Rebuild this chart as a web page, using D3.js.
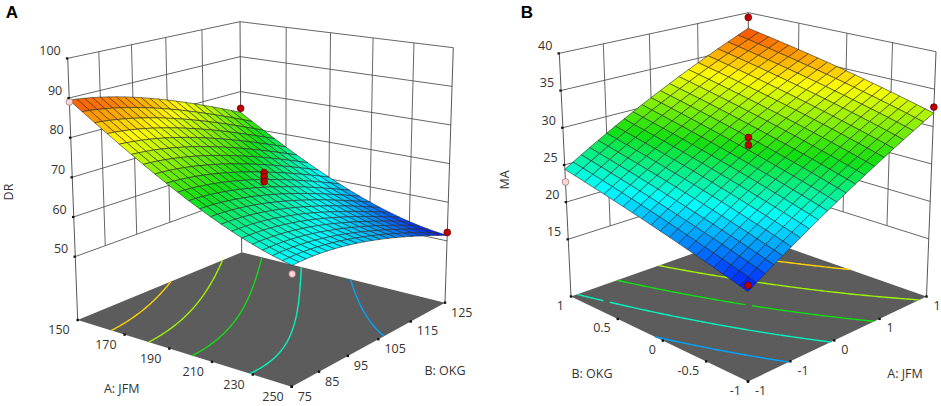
<!DOCTYPE html>
<html>
<head>
<meta charset="utf-8">
<script src="https://cdn.jsdelivr.net/npm/d3@7"></script>
<style>
  body { margin: 0; background: #fff; }
  text { font-family: "Segoe UI", "Open Sans", "Noto Sans", sans-serif; fill: #333; font-size: 12.5px; }
</style>
</head>
<body>
<svg id="chart" width="941" height="406"></svg>
<script>
(function () {
  // ---- panel A: DR against A: JFM and B: OKG (actual units)
  const jfmTicks = [150, 170, 190, 210, 230, 250];
  const okgTicks = [75, 85, 95, 105, 115, 125];
  const drTicks = [50, 60, 70, 80, 90, 100];
  // fitted model, coded units: [1, A, B, AB, A^2, B^2]
  const drCoef = [67.3, -12.7, -6.3, 1.4, 4.74, -3.0];
  // design runs: [JFM, OKG, DR]
  const drRuns = [[150, 75, 89.0], [150, 125, 75.2], [250, 125, 52.2], [250, 75, 59.3],
                  [200, 100, 71.0], [200, 100, 70.0], [200, 100, 68.7]];

  // ---- panel B: MA against coded A: JFM and B: OKG
  const jfmTicksB = [-1, -0.5, 0, 0.5, 1];
  const jfmLabelsB = ["-1", "-1", "0", "1", "1"];
  const okgTicksB = [-1, -0.5, 0, 0.5, 1];
  const okgLabelsB = ["-1", "-0.5", "0", "0.5", "1"];
  const maTicks = [15, 20, 25, 30, 35, 40];
  // fitted model, coded units: [1, A, B]
  const maCoef = [28.1, 6.65, 2.95];
  // design runs: [JFM, OKG, MA]
  const maRuns = [[1, 1, 39.3], [1, -1, 32.6], [-1, 1, 22.7], [-1, -1, 19.3], [0, 0, 29.8], [0, 0, 28.8]];

  function drModel(A, B) {
    const a = (A - 200) / 50, b = (B - 100) / 25, c = drCoef;
    return c[0] + c[1] * a + c[2] * b + c[3] * a * b + c[4] * a * a + c[5] * b * b;
  }
  function maModel(A, B) {
    return maCoef[0] + maCoef[1] * A + maCoef[2] * B;
  }

  const color = d3.scaleLinear()
    .domain([0, 0.27, 0.5, 0.78, 1])
    .range(["#0010ff", "#00ffff", "#10e010", "#ffff00", "#ff4a00"])
    .clamp(true);

  const svg = d3.select("#chart");

  // box corners on screen: fx/fy floor, tx/ty top; c<u><v>
  const panels = [
    {
      letter: "A", letterPos: [12, 12],
      f: drModel, runs: drRuns,
      x: d3.scaleLinear().domain([150, 250]).range([0, 1]),
      y: d3.scaleLinear().domain([75, 125]).range([0, 1]),
      z: d3.scaleLinear().domain([34, 100]).range([0, 1]),
      corners: {
        c00: { fx: 77.7, fy: 320, tx: 67.7, ty: 58.3 },
        c10: { fx: 291.7, fy: 386.7, tx: 293, ty: 92.7 },
        c01: { fx: 241.7, fy: 252.3, tx: 240, ty: 21.7 },
        c11: { fx: 445, fy: 302.7, tx: 453.3, ty: 47.7 }
      },
      zTicks: drTicks, zCorner: [0, 0], zTitle: "DR", zTitlePos: [8.5, 192],
      walls: [
        { pt: t => [0, t], ticks: okgTicks, axis: "y" },
        { pt: t => [t, 1], ticks: jfmTicks, axis: "x" }
      ],
      verticals: [[0, 0], [0, 1], [1, 1]],
      axes: [
        { pt: t => [t, 0], ticks: jfmTicks, labels: jfmTicks.map(String), axis: "x", anchor: "end", off: [-8, 10],
          title: "A: JFM", titlePos: [121.7, 388.5] },
        { pt: t => [1, t], ticks: okgTicks, labels: okgTicks.map(String), axis: "y", anchor: "start", off: [6, 9.5],
          title: "B: OKG", titlePos: [445, 371] }
      ]
    },
    {
      letter: "B", letterPos: [527, 12],
      f: maModel, runs: maRuns,
      x: d3.scaleLinear().domain([-1, 1]).range([0, 1]),
      y: d3.scaleLinear().domain([-1, 1]).range([0, 1]),
      z: d3.scaleLinear().domain([7.3, 40]).range([0, 1]),
      corners: {
        c00: { fx: 748, fy: 381.5, tx: 748, ty: 119.5 },
        c10: { fx: 926.5, fy: 296.5, tx: 936, ty: 51.7 },
        c01: { fx: 571, fy: 296.5, tx: 559.3, ty: 53.3 },
        c11: { fx: 748.3, fy: 234, tx: 748.3, ty: 12.7 }
      },
      zTicks: maTicks, zCorner: [0, 1], zTitle: "MA", zTitlePos: [505, 180],
      walls: [
        { pt: t => [t, 1], ticks: jfmTicksB, axis: "x" },
        { pt: t => [1, t], ticks: okgTicksB, axis: "y" }
      ],
      verticals: [[0, 1], [1, 1], [1, 0]],
      axes: [
        { pt: t => [0, t], ticks: okgTicksB, labels: okgLabelsB, axis: "y", anchor: "end", off: [-7, 9],
          title: "B: OKG", titlePos: [592, 373.5] },
        { pt: t => [t, 0], ticks: jfmTicksB, labels: jfmLabelsB, axis: "x", anchor: "start", off: [7, 9],
          title: "A: JFM", titlePos: [905, 373.5] }
      ]
    }
  ];

  function projector(c) {
    const keys = ["c00", "c10", "c01", "c11"];
    const proj = function (u, v, s) {
      const w = [(1 - u) * (1 - v), u * (1 - v), (1 - u) * v, u * v];
      let sx = 0, sy = 0, sw = 0;
      keys.forEach((k, i) => {
        const q = c[k], ww = w[i] * (q.fy - q.ty);
        sx += ww * (q.fx + (q.tx - q.fx) * s);
        sy += ww * (q.fy + (q.ty - q.fy) * s);
        sw += ww;
      });
      return [sx / sw, sy / sw];
    };
    // nearness of a floor spot (bigger = closer to viewer)
    proj.near = function (u, v) {
      const w = [(1 - u) * (1 - v), u * (1 - v), (1 - u) * v, u * v];
      return keys.reduce((acc, k, i) => acc + w[i] * (c[k].fy - c[k].ty), 0);
    };
    return proj;
  }

  const line = d3.line();

  function drawPanel(p) {
    const P = projector(p.corners);
    const g = svg.append("g");
    const sLow = p.z(p.zTicks[0]);

    // back walls: grid lines
    const wall = g.append("g").attr("stroke", "#555").attr("stroke-width", 0.9).attr("fill", "none");
    p.walls.forEach(w => {
      p.zTicks.forEach(t => {
        const s = p.z(t);
        wall.append("path").attr("d", line([P(...w.pt(0), s), P(...w.pt(1), s)]));
      });
      w.ticks.slice(1, -1).forEach(t => {
        const uv = w.pt(p[w.axis](t));
        wall.append("path").attr("d", line([P(...uv, sLow), P(...uv, 1)]));
      });
    });
    p.verticals.forEach(uv => {
      wall.append("path").attr("stroke", "#444").attr("d", line([P(...uv, 0), P(...uv, 1)]));
    });

    // floor
    g.append("path")
      .attr("fill", "#5c5c5c")
      .attr("d", line([P(0, 0, 0), P(1, 0, 0), P(1, 1, 0), P(0, 1, 0)]) + "Z");

    // response grid for colours and contours
    const M = 80;
    const vals = [];
    for (let j = 0; j <= M; j++) {
      for (let i = 0; i <= M; i++) {
        vals.push(p.f(p.x.invert(i / M), p.y.invert(j / M)));
      }
    }
    const vMin = d3.min(vals), vMax = d3.max(vals);
    const frac = v => (v - vMin) / (vMax - vMin);

    // floor contours (marching squares)
    const levels = d3.range(1, 6).map(k => vMin + k * (vMax - vMin) / 6);
    levels.forEach(level => {
      let d = "";
      for (let j = 0; j < M; j++) {
        for (let i = 0; i < M; i++) {
          const cs = [[i, j], [i + 1, j], [i + 1, j + 1], [i, j + 1]];
          const cv = cs.map(([a, b]) => vals[b * (M + 1) + a]);
          const hits = [];
          for (let e = 0; e < 4; e++) {
            const v0 = cv[e], v1 = cv[(e + 1) % 4];
            if ((v0 - level) * (v1 - level) < 0) {
              const t = (level - v0) / (v1 - v0);
              const a = cs[e], b = cs[(e + 1) % 4];
              hits.push([(a[0] + (b[0] - a[0]) * t) / M, (a[1] + (b[1] - a[1]) * t) / M]);
            }
          }
          for (let h = 0; h + 1 < hits.length; h += 2) {
            d += line([P(...hits[h], 0), P(...hits[h + 1], 0)]);
          }
        }
      }
      g.append("path").attr("d", d).attr("fill", "none")
        .attr("stroke", color(frac(level))).attr("stroke-width", 1.4);
    });

    // tick dots on the floor edges
    p.axes.forEach(ax => {
      ax.ticks.forEach(t => {
        const [sx, sy] = P(...ax.pt(p[ax.axis](t)), 0);
        g.append("rect").attr("x", sx - 1.2).attr("y", sy - 1.2).attr("width", 2.4).attr("height", 2.4).attr("fill", "#111");
      });
    });

    // surface mesh, painted far to near
    const N = 20;
    const cells = [];
    for (let j = 0; j < N; j++) {
      for (let i = 0; i < N; i++) {
        const uv = [[i / N, j / N], [(i + 1) / N, j / N], [(i + 1) / N, (j + 1) / N], [i / N, (j + 1) / N]];
        const zs = uv.map(([u, v]) => p.f(p.x.invert(u), p.y.invert(v)));
        cells.push({
          pts: uv.map(([u, v], k) => P(u, v, p.z(zs[k]))),
          val: d3.mean(zs),
          near: P.near((i + 0.5) / N, (j + 0.5) / N)
        });
      }
    }
    cells.sort((a, b) => a.near - b.near);
    g.append("g").selectAll("path").data(cells).join("path")
      .attr("d", c => line(c.pts) + "Z")
      .attr("fill", c => color(frac(c.val)))
      .attr("stroke", "#2a2a2a")
      .attr("stroke-width", 0.6)
      .attr("stroke-linejoin", "round");

    // design points: red above the surface, pink below
    p.runs.forEach(r => {
      const [sx, sy] = P(p.x(r[0]), p.y(r[1]), p.z(r[2]));
      const above = r[2] >= p.f(r[0], r[1]);
      g.append("circle").attr("cx", sx).attr("cy", sy).attr("r", 3.4)
        .attr("fill", above ? "#c00000" : "#ffd4d4")
        .attr("stroke", above ? "#5a0000" : "#8a7070")
        .attr("stroke-width", 0.7);
    });

    // vertical axis ticks and labels
    p.zTicks.forEach(t => {
      const [sx, sy] = P(...p.zCorner, p.z(t));
      g.append("rect").attr("x", sx - 1.8).attr("y", sy - 1).attr("width", 2.4).attr("height", 2.2).attr("fill", "#111");
      g.append("text").attr("x", sx - 7).attr("y", sy - 7.5).attr("dy", "0.35em")
        .attr("text-anchor", "end").text(t);
    });
    g.append("text")
      .attr("transform", `translate(${p.zTitlePos[0]},${p.zTitlePos[1]}) rotate(-90)`)
      .attr("text-anchor", "middle").attr("dy", "0.35em").text(p.zTitle);

    // floor axes labels
    p.axes.forEach(ax => {
      ax.ticks.forEach((t, k) => {
        const [sx, sy] = P(...ax.pt(p[ax.axis](t)), 0);
        g.append("text").attr("x", sx + ax.off[0]).attr("y", sy + ax.off[1]).attr("dy", "0.35em")
          .attr("text-anchor", ax.anchor).text(ax.labels[k]);
      });
      g.append("text").attr("x", ax.titlePos[0]).attr("y", ax.titlePos[1]).attr("dy", "0.35em")
        .attr("text-anchor", "middle").text(ax.title);
    });

    g.append("text")
      .attr("x", p.letterPos[0]).attr("y", p.letterPos[1]).attr("dy", "0.36em")
      .attr("text-anchor", "middle")
      .style("font-family", "Arial, 'Liberation Sans', sans-serif")
      .style("font-weight", "bold").style("font-size", "17px").style("fill", "#000")
      .text(p.letter);
  }

  panels.forEach(drawPanel);
})();
</script>
</body>
</html>
